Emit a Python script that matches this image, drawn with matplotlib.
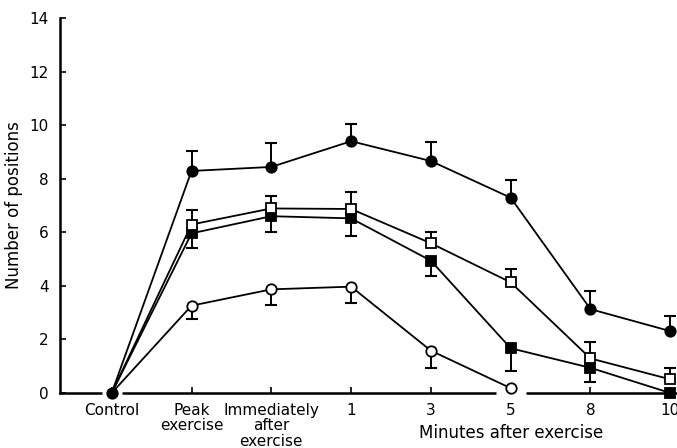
import numpy as np
import matplotlib
matplotlib.use("Agg")
import matplotlib.pyplot as plt

categories = ["Control", "Peak\nexercise", "Immediately\nafter\nexercise",
              "1", "3", "5", "8", "10"]
xlabel_text = "Minutes after exercise"
ylabel_text = "Number of positions"

# filled circles (upper error bars)
filled_circle = [0, 8.29, 8.44, 9.40, 8.66, 7.29, 3.13, 2.31]
filled_circle_err = [0, 0.74, 0.88, 0.66, 0.72, 0.66, 0.68, 0.57]
# open squares (upper error bars)
open_square = [0, 6.29, 6.89, 6.87, 5.59, 4.13, 1.29, 0.51]
open_square_err = [0, 0.54, 0.46, 0.63, 0.43, 0.49, 0.62, 0.43]
# filled squares (lower error bars)
filled_square = [0, 5.96, 6.60, 6.52, 4.94, 1.67, 0.94, 0.0]
filled_square_err = [0, 0.54, 0.58, 0.66, 0.56, 0.84, 0.53, 0]
# open circles (lower error bars)
open_circle = [0, 3.26, 3.87, 3.97, 1.58, 0.18, np.nan, np.nan]
open_circle_err = [0, 0.51, 0.59, 0.62, 0.66, 0, 0, 0]

plt.rcParams['font.family'] = ['DejaVu Sans']
fig = plt.figure(figsize=(6.77, 4.48), dpi=100)
ax = fig.add_axes([60/677, 1-393/448, 1-60/677, (393-18)/448])

x = np.arange(len(categories))

def draw(vals, errs, marker, face, upper, z, show_first):
    vals = np.array(vals, float)
    errs = np.array(errs, float)
    mask = errs > 0
    xs = x[mask]
    v = vals[mask]
    ends = v + errs[mask] if upper else v - errs[mask]
    ax.vlines(xs, v, ends, color='black', lw=1.4, zorder=z)
    ax.plot(xs, ends, ls='none', marker='_', ms=9, mew=1.5, color='black',
            zorder=z)
    every = list(range(len(x))) if show_first else list(range(1, len(x)))
    ax.plot(x, vals, color='black', lw=1.3, marker=marker, mfc=face, mec='black',
            mew=1.3, ms=7.5 if marker == 'o' else 6.5, zorder=z + 0.5,
            clip_on=False, markevery=every)

draw(open_circle, open_circle_err, 'o', 'white', False, 3, False)
draw(filled_square, filled_square_err, 's', 'black', False, 4, False)
draw(open_square, open_square_err, 's', 'white', True, 5, False)
draw(filled_circle, filled_circle_err, 'o', 'black', True, 6, True)

# gaps in the x axis around the Control and 5-min points
ax.plot([x[0]], [0], marker='_', ms=14, mew=5, color='white', zorder=2.7, clip_on=False)
ax.plot([x[5]], [0], marker='_', ms=21, mew=5, color='white', zorder=2.7, clip_on=False)

ax.set_xlim(-0.648, 7.084)
ax.set_ylim(0, 14)
ax.set_yticks(np.arange(0, 15, 2))
ax.set_xticks(x)
ax.set_xticklabels(categories, fontsize=11, linespacing=1.05)
ax.tick_params(axis='both', direction='in', length=4, width=1.2, labelsize=11)
ax.tick_params(axis='x', pad=7)
ax.tick_params(axis='y', pad=8)
for s in ['top', 'right']:
    ax.spines[s].set_visible(False)
for s in ['left', 'bottom']:
    ax.spines[s].set_linewidth(1.8)
ax.set_ylabel(ylabel_text, fontsize=12, labelpad=5)
ax.text(x[5], -0.082, xlabel_text, transform=ax.get_xaxis_transform(),
        ha='center', va='top', fontsize=12)

fig.savefig("out.png", dpi=100)
